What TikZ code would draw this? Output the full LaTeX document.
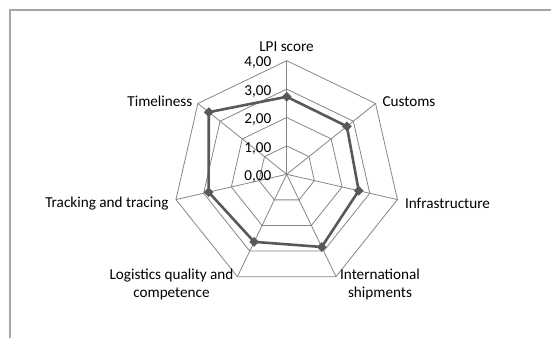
\documentclass[tikz,border=0pt]{standalone}
\usepackage{fontspec}
\setmainfont{Carlito}
\usetikzlibrary{shapes.geometric}
\definecolor{gridc}{HTML}{868686}
\definecolor{datac}{HTML}{595959}
\definecolor{framec}{HTML}{A6A6A6}
\begin{document}
\begin{tikzpicture}[x=1bp,y=1bp,
  font=\fontsize{15.2bp}{18.3bp}\selectfont,
  gridline/.style={draw=gridc,line width=0.8bp},
  dataline/.style={draw=datac,line width=2.6bp,line join=round},
  diamark/.style={diamond,fill=datac,inner sep=0pt,minimum width=10bp,minimum height=10bp},
  vallabel/.style={anchor=east,inner sep=0pt,text=black},
  axlabel/.style={inner sep=0pt,text=black,align=center}]
\useasboundingbox (0,-338) rectangle (551,0);
\draw[framec,line width=1.3bp] (551,-10) -- (10,-10) -- (10,-338);
\begin{scope}[shift={(286.7,-174.3)}]
  \coordinate (c) at (0,0);
  \foreach \k in {0,...,6}{
    \foreach \r in {1,...,4}{
      \coordinate (g\r-\k) at ({90-360/7*\k}:{\r*28.4});
    }
  }
  \foreach \r in {1,...,4}{
    \draw[gridline] (g\r-0) -- (g\r-1) -- (g\r-2) -- (g\r-3) -- (g\r-4) -- (g\r-5) -- (g\r-6) -- cycle;
  }
  \foreach \k in {0,...,6}{
    \draw[gridline] (c) -- (g4-\k);
  }
  \foreach \v [count=\k from 0] in {2.73,2.71,2.60,2.84,2.64,2.82,3.51}{
    \coordinate (d\k) at ({90-360/7*\k}:{\v*28.4});
  }
  \draw[dataline] (d0) -- (d1) -- (d2) -- (d3) -- (d4) -- (d5) -- (d6) -- cycle;
  \foreach \k in {0,...,6}{
    \node[diamark] (m\k) at (d\k) {};
  }
  \foreach \r/\t in {0/{0,00},1/{1,00},2/{2,00},3/{3,00},4/{4,00}}{
    \node[vallabel] (v\r) at (-15.2,{\r*28.4-2.2}) {\t};
  }
\end{scope}
\node[axlabel] (lLPI) at (286.5,-46.7) {LPI score};
\node[axlabel,anchor=west] (lCus) at (382.3,-101.7) {Customs};
\node[axlabel,anchor=west] (lInf) at (404.8,-203.3) {Infrastructure};
\node[axlabel] (lInt) at (380,-284.2) {International\\shipments};
\node[axlabel] (lLog) at (171.5,-284.2) {Logistics quality and\\competence};
\node[axlabel,anchor=east] (lTra) at (168.7,-203.3) {Tracking and tracing};
\node[axlabel,anchor=east] (lTim) at (192.6,-101.7) {Timeliness};
\end{tikzpicture}
\end{document}
